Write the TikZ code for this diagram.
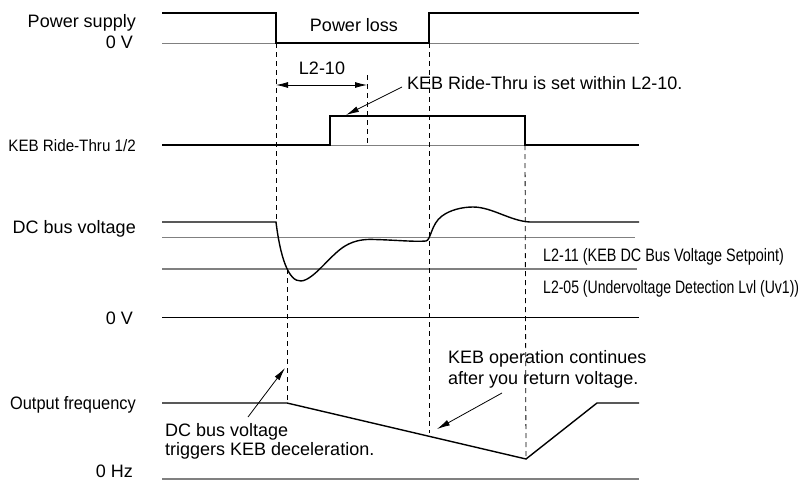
\documentclass[tikz,border=0pt]{standalone}
\usepackage{graphicx}
\usepackage{fontspec}
\setmainfont{Liberation Sans}
\usetikzlibrary{arrows.meta}
\begin{document}
\begin{tikzpicture}[x=1pt,y=-1pt,
  sig/.style={line width=1.4pt, black, line join=miter},
  refline/.style={line width=0.9pt, black!50},
  refthick/.style={line width=1.9pt, black!50},
  guide/.style={line width=0.8pt, black, dash pattern=on 5pt off 4pt},
  note/.style={line width=0.8pt, black, -{Latex[length=13pt,width=6pt]}},
  span/.style={line width=0.8pt, black, {Latex[length=12pt,width=6pt]}-{Latex[length=12pt,width=6pt]}},
  lbl/.style={font=\fontsize{18}{21}\selectfont, inner sep=0pt},
  ]
\useasboundingbox (0,0) rectangle (809,483);

% ---- Power supply ----
\coordinate (psL) at (162,13);
\coordinate (psOff) at (276,13);
\coordinate (psOffLo) at (276,43);
\coordinate (psOnLo) at (429,43);
\coordinate (psOn) at (429,13);
\coordinate (psR) at (639,13);
\coordinate (zvL) at (162,43);
\coordinate (zvR) at (639,43);
\draw[refline] (zvL) -- (zvR);
\draw[sig] (psL) -- (psOff) -- (psOffLo) -- (psOnLo) -- (psOn) -- (psR);

% ---- KEB Ride-Thru ----
\coordinate (kL) at (162,145);
\coordinate (kUpLo) at (330,145);
\coordinate (kUp) at (330,116);
\coordinate (kDn) at (525,116);
\coordinate (kDnLo) at (525,145);
\coordinate (kR) at (639,145);
\draw[refline] (kUpLo) -- (kDnLo);
\draw[sig] (kL) -- (kUpLo) -- (kUp) -- (kDn) -- (kDnLo) -- (kR);

% ---- DC bus reference lines ----
\draw[refline] (162,237) coordinate (l11L) -- (635,237) coordinate (l11R);
\draw[refthick] (162,269) coordinate (l05L) -- (637,269) coordinate (l05R);
\draw[line width=1pt, black] (162,317) coordinate (dz0L) -- (639,317) coordinate (dz0R);

% ---- DC bus curve ----
\draw[sig] (162,222) -- (276,222)
  .. controls (280,255) and (288,282) .. (301,281)
  .. controls (314,280) and (330,255) .. (345,246)
  .. controls (355,240) and (365,239) .. (375,239.5)
  .. controls (395,240) and (415,242) .. (426,241)
  .. controls (431,240) and (431,224) .. (442,216)
  .. controls (450,210) and (462,207) .. (473,207)
  .. controls (492,207) and (510,221) .. (530,222)
  -- (639,222);

% ---- Output frequency ----
\draw[refthick] (162,479) coordinate (hzL) -- (639,479) coordinate (hzR);
\coordinate (fL) at (162,403);
\coordinate (fDec) at (287,403);
\coordinate (fMin) at (526,459);
\coordinate (fTop) at (597,403);
\coordinate (fR) at (639,403);
\draw[sig] (fL) -- (fDec) -- (fMin) -- (fTop) -- (fR);

% ---- dashed guides ----
\draw[guide] (psOffLo) -- (276,222);
\draw[guide] (287,269) -- (fDec);
\draw[guide] (367,75) -- (367,145);
\draw[guide] (psOnLo) -- (429,433);
\draw[guide] (kDnLo) -- (fMin);

% ---- L2-10 span ----
\coordinate (spA) at (276,85);
\coordinate (spB) at (367,85);
\draw[span] (spA) -- (spB);
\node[lbl, anchor=base] (tL210) at (322,74.5) {L2-10};

% ---- left labels ----
\node[lbl, anchor=base east] (tPS) at (136,27.5) {Power supply};
\node[lbl, anchor=base east] (tPS0) at (133,48.5) {0 V};
\node[lbl, anchor=base east, font=\fontsize{16.5}{19}\selectfont] (tKEB) at (136,151) {\scalebox{0.92}[1]{KEB Ride-Thru 1/2}};
\node[lbl, anchor=base east] (tDC) at (136,233.5) {DC bus voltage};
\node[lbl, anchor=base east] (tDC0) at (133,324.5) {0 V};
\node[lbl, anchor=base east] (tOF) at (136,409.5) {\scalebox{0.91}[1]{Output frequency}};
\node[lbl, anchor=base east] (tHz) at (133,477) {0 Hz};

% ---- other labels ----
\node[lbl, anchor=base] (tLoss) at (354,31.5) {Power loss};
\node[lbl, anchor=base west] (tSet) at (407,89) {KEB Ride-Thru is set within L2-10.};
\node[lbl, anchor=base west] (t11) at (543,261.5) {\scalebox{0.8}[1]{L2-11 (KEB DC Bus Voltage Setpoint)}};
\node[lbl, anchor=base west] (t05) at (543,293.5) {\scalebox{0.78}[1]{L2-05 (Undervoltage Detection Lvl (Uv1))}};
\node[lbl, anchor=base west] (tTrig1) at (165,436) {DC bus voltage};
\node[lbl, anchor=base west] (tTrig2) at (165,455.5) {triggers KEB deceleration.};
\node[lbl, anchor=base west] (tCont1) at (448,363) {KEB operation continues};
\node[lbl, anchor=base west] (tCont2) at (448,384) {after you return voltage.};

% ---- annotation arrows ----
\coordinate (nSetA) at (402,87);
\coordinate (nSetB) at (346,115);
\draw[note] (nSetA) -- (nSetB);
\coordinate (nTrigA) at (248,417);
\coordinate (nTrigB) at (285,368);
\draw[note] (nTrigA) -- (nTrigB);
\coordinate (nContA) at (502,393);
\coordinate (nContB) at (437,429);
\draw[note] (nContA) -- (nContB);
\end{tikzpicture}
\end{document}
